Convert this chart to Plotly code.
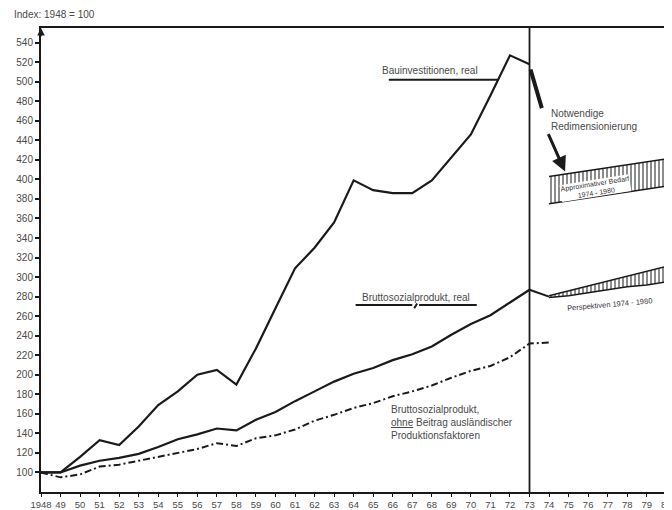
import plotly.graph_objects as go

# ---- data ----
years = list(range(1948, 1974))
tick_years = list(range(1948, 1981))
tick_labels = ["1948"] + [f"{y % 100:02d}" for y in range(1949, 1981)]

bauinvest = [100, 100, 116, 133, 128, 147, 169, 183, 200, 205, 190, 227, 268, 309,
             330, 356, 399, 389, 386, 386, 399, 422, 446, 486, 527, 518]
bsp_real = [100, 100, 107, 112, 115, 119, 126, 134, 139, 145, 143, 154, 162, 173,
            183, 193, 201, 207, 215, 221, 229, 241, 252, 261, 274, 287]
bsp_ohne_years = list(range(1948, 1975))
bsp_ohne = [100, 95, 98, 106, 108, 112, 116, 120, 124, 130, 127, 135, 138, 144,
            153, 159, 166, 171, 178, 183, 189, 197, 204, 209, 218, 232, 233]

proj_years = list(range(1974, 1981))
bedarf_top = [403, 406, 409, 412, 415, 418, 421]
bedarf_bot = [375, 378, 381, 384, 387, 390, 393]
persp_top = [281, 286, 291, 296, 301, 306, 311]
persp_bot = [279, 281, 284, 287, 290, 292, 295]
bsp_link_years = [1973, 1974]
bsp_link = [287, 280]

LINE = "#1a1a1a"
TXT = "#4a4a4a"
FONT = "Liberation Sans, Arial, sans-serif"

fig = go.Figure()

fig.add_trace(go.Scatter(x=years, y=bauinvest, mode="lines",
                         line=dict(color=LINE, width=2.2), hoverinfo="skip"))
fig.add_trace(go.Scatter(x=years, y=bsp_real, mode="lines",
                         line=dict(color=LINE, width=2.2), hoverinfo="skip"))
fig.add_trace(go.Scatter(x=bsp_ohne_years, y=bsp_ohne, mode="lines",
                         line=dict(color=LINE, width=2, dash="7px,3px,2px,3px"),
                         hoverinfo="skip"))
fig.add_trace(go.Scatter(x=bsp_link_years, y=bsp_link, mode="lines",
                         line=dict(color=LINE, width=2), hoverinfo="skip"))

# hatched projection bands
for top, bot in [(bedarf_top, bedarf_bot), (persp_top, persp_bot)]:
    fig.add_trace(go.Scatter(x=proj_years, y=bot, mode="lines",
                             line=dict(color=LINE, width=1.5), hoverinfo="skip"))
    fig.add_trace(go.Scatter(x=proj_years, y=top, mode="lines", fill="tonexty",
                             fillcolor="rgba(0,0,0,0)",
                             fillpattern=dict(shape="|", fgcolor=LINE, bgcolor="white",
                                              size=4, solidity=0.5),
                             line=dict(color=LINE, width=1.5), hoverinfo="skip"))

shapes = [
    # vertical line at 1973
    dict(type="line", xref="x", yref="paper", x0=1973, x1=1973, y0=0, y1=1,
         line=dict(color=LINE, width=1.8)),
    # underline Bauinvestitionen
    dict(type="line", xref="x", yref="y", x0=1965.8, x1=1971.4, y0=502, y1=502,
         line=dict(color=LINE, width=2)),
    # underline BSP real (two parts with a slash)
    dict(type="line", xref="x", yref="y", x0=1964.1, x1=1967.0, y0=271.5, y1=271.5,
         line=dict(color=LINE, width=2)),
    dict(type="line", xref="x", yref="y", x0=1967.35, x1=1970.3, y0=271.5, y1=271.5,
         line=dict(color=LINE, width=2)),
    dict(type="line", xref="x", yref="y", x0=1967.1, x1=1967.25, y0=268, y1=273,
         line=dict(color=LINE, width=2)),
]

annotations = [
    dict(text="Index: 1948 = 100", xref="paper", yref="paper", x=-0.046, y=1.03,
         xanchor="left", yanchor="middle", showarrow=False,
         font=dict(size=10, color=TXT)),
    dict(text="Bauinvestitionen, real", x=1967.9, y=512, showarrow=False,
         font=dict(size=10, color=TXT)),
    dict(text="Bruttosozialprodukt, real", x=1967.2, y=279, showarrow=False,
         font=dict(size=10, color=TXT)),
    dict(text="Bruttosozialprodukt,<br><u>ohne</u> Beitrag ausländischer<br>Produktionsfaktoren",
         x=1965.8, y=151, xanchor="left", align="left", showarrow=False,
         font=dict(size=10, color=TXT)),
    dict(text="Notwendige<br>Redimensionierung", x=1974.0, y=461, xanchor="left",
         align="left", showarrow=False, font=dict(size=10, color=TXT)),
    dict(text="Approximativer Bedarf<br>1974 - 1980", x=1976.4, y=391, textangle=-9,
         showarrow=False, bgcolor="white", borderpad=0, font=dict(size=7, color="#333")),
    dict(text="Perspektiven 1974 - 1980", x=1977.1, y=272, textangle=-5,
         showarrow=False, font=dict(size=7.5, color="#333")),
    # thick stroke down from 1973 peak
    dict(x=1973.63, y=473, ax=1973.03, ay=514, xref="x", yref="y", axref="x", ayref="y",
         showarrow=True, arrowhead=0, arrowwidth=4, arrowcolor=LINE, text=""),
    # arrow toward the Bedarf band
    dict(x=1974.82, y=408, ax=1973.93, ay=448, xref="x", yref="y", axref="x", ayref="y",
         showarrow=True, arrowhead=2, arrowsize=1, arrowwidth=3, arrowcolor=LINE, text=""),
    # arrow on top of the y axis
    dict(x=1948, y=555, ax=1948, ay=545, xref="x", yref="y", axref="x", ayref="y",
         showarrow=True, arrowhead=2, arrowwidth=1.5, arrowcolor=LINE, text=""),
]

# page body has an 8px margin, so the figure is sized to fill the rest of the window
fig.update_layout(
    width=664, height=502,
    margin=dict(l=33, r=0, t=20, b=16),
    plot_bgcolor="white", paper_bgcolor="white",
    showlegend=False,
    font=dict(family=FONT, color=TXT),
    shapes=shapes, annotations=annotations,
    xaxis=dict(range=[1948, 1980.19], tickmode="array", tickvals=tick_years,
               ticktext=tick_labels, showgrid=False, zeroline=False,
               showline=True, linecolor=LINE, linewidth=2, mirror=True,
               ticks="outside", ticklen=3, tickcolor=LINE, tickwidth=1,
               ticklabeloverflow="allow",
               tickfont=dict(size=9.5, color=TXT)),
    yaxis=dict(range=[80, 555], tickmode="array", tickvals=list(range(100, 541, 20)),
               showgrid=False, zeroline=False, showline=True, linecolor=LINE,
               linewidth=2, ticks="outside", ticklen=4, tickcolor=LINE, tickwidth=1.5,
               tickfont=dict(size=10, color=TXT)),
)

fig.write_html("out.html")
